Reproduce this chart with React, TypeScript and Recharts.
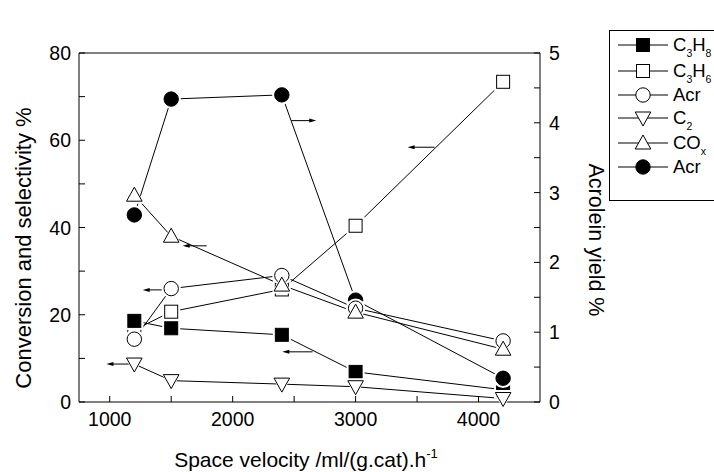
import React from 'react';
import { LineChart, Line, XAxis, YAxis, ReferenceLine } from 'recharts';

const spaceVelocity = [1200, 1500, 2400, 3000, 4200];
const propaneConv = [18.6, 16.9, 15.4, 6.9, 2.8];
const propyleneSel = [16.5, 20.7, 25.8, 40.4, 73.4];
const acroleinSel = [14.4, 26.0, 29.0, 21.5, 14.0];
const c2Sel = [8.7, 4.9, 4.1, 3.5, 0.8];
const coxSel = [47.4, 38.0, 26.8, 20.6, 12.1];
const acroleinYield = [2.68, 4.34, 4.4, 1.46, 0.34];

const xTicks = [1000, 1500, 2000, 2500, 3000, 3500, 4000];
const xLabels = [1000, 2000, 3000, 4000];
const leftTicks = [0, 10, 20, 30, 40, 50, 60, 70, 80];
const leftLabels = [0, 20, 40, 60, 80];
const rightTicks = [0, 0.5, 1, 1.5, 2, 2.5, 3, 3.5, 4, 4.5, 5];
const rightLabels = [0, 1, 2, 3, 4, 5];

// arrows: head x, tail x, y (left-axis units)
const arrowHeads = [2680, 3423, 1593, 1268, 2404, 973];
const arrowTails = [2477, 3642, 1789, 1504, 2650, 1187];
const arrowYs = [64.5, 58.4, 35.8, 25.7, 11.5, 8.7];

const data = spaceVelocity.map((sv, i) => ({
  sv,
  c3h8: propaneConv[i],
  c3h6: propyleneSel[i],
  acr: acroleinSel[i],
  c2: c2Sel[i],
  cox: coxSel[i],
  yieldAcr: acroleinYield[i],
}));

const FONT = '"Liberation Sans", Arial, Helvetica, sans-serif';
const TICK_FS = 19.5;

type Kind = 'fsq' | 'osq' | 'ocirc' | 'dtri' | 'utri' | 'fcirc';

function Marker({ kind, cx, cy, halo }: { kind: Kind; cx: number; cy: number; halo?: boolean }) {
  const h = halo ? 2.5 : 0;
  const fill = halo ? '#fff' : kind === 'fsq' || kind === 'fcirc' ? '#000' : '#fff';
  const stroke = halo ? '#fff' : '#000';
  const sw = halo ? 0 : 1;
  switch (kind) {
    case 'fsq':
    case 'osq': {
      const s = 6.5 + h;
      return <rect x={cx - s} y={cy - s} width={2 * s} height={2 * s} fill={fill} stroke={stroke} strokeWidth={sw} />;
    }
    case 'ocirc':
    case 'fcirc':
      return <circle cx={cx} cy={cy} r={7.2 + h} fill={fill} stroke={stroke} strokeWidth={sw} />;
    case 'dtri': {
      const w = 7.8 + h;
      const t = 6 + h;
      return <polygon points={`${cx - w},${cy - t} ${cx + w},${cy - t} ${cx},${cy + t + 2}`} fill={fill} stroke={stroke} strokeWidth={sw} />;
    }
    case 'utri': {
      const w = 7.8 + h;
      const t = 6 + h;
      return <polygon points={`${cx - w},${cy + t} ${cx + w},${cy + t} ${cx},${cy - t - 2}`} fill={fill} stroke={stroke} strokeWidth={sw} />;
    }
  }
  return null;
}

const makeDot = (kind: Kind) => (props: any) => {
  const { cx, cy, index } = props;
  if (cx == null || cy == null) return <g key={index} />;
  return (
    <g key={index}>
      <Marker kind={kind} cx={cx} cy={cy} halo />
      <Marker kind={kind} cx={cx} cy={cy} />
    </g>
  );
};

const XTick = (props: any) => {
  const { x, y, payload } = props;
  const v = payload.value;
  return (
    <g>
      <line x1={x} x2={x} y1={y} y2={y - 6} stroke="#000" strokeWidth={1} />
      {xLabels.includes(v) && (
        <text x={x} y={y + 24} textAnchor="middle" fontFamily={FONT} fontSize={TICK_FS} fill="#000">
          {v}
        </text>
      )}
    </g>
  );
};

const LeftTick = (props: any) => {
  const { x, y, payload } = props;
  const v = payload.value;
  return (
    <g>
      <line x1={x} x2={x + 6} y1={y} y2={y} stroke="#000" strokeWidth={1} />
      {leftLabels.includes(v) && (
        <text x={x - 8} y={y + 7} textAnchor="end" fontFamily={FONT} fontSize={TICK_FS} fill="#000">
          {v}
        </text>
      )}
    </g>
  );
};

const RightTick = (props: any) => {
  const { x, y, payload } = props;
  const v = payload.value;
  return (
    <g>
      <line x1={x} x2={x - 6} y1={y} y2={y} stroke="#000" strokeWidth={1} />
      {rightLabels.includes(v) && (
        <text x={x + 9} y={y + 7} textAnchor="start" fontFamily={FONT} fontSize={TICK_FS} fill="#000">
          {v}
        </text>
      )}
    </g>
  );
};

const arrowShape = (props: any) => {
  const { x1, y1, x2, y2 } = props;
  const dir = x2 > x1 ? 1 : -1; // from head toward tail
  return (
    <g>
      <line x1={x1 + dir * 4} y1={y1} x2={x2} y2={y2} stroke="#000" strokeWidth={1} />
      <polygon points={`${x1},${y1} ${x1 + dir * 7},${y1 - 2} ${x1 + dir * 7},${y1 + 2}`} fill="#000" />
    </g>
  );
};

const legendItems: { kind: Kind; main: string[]; subs: string[] }[] = [
  { kind: 'fsq', main: ['C', 'H'], subs: ['3', '8'] },
  { kind: 'osq', main: ['C', 'H'], subs: ['3', '6'] },
  { kind: 'ocirc', main: ['Acr'], subs: [''] },
  { kind: 'dtri', main: ['C'], subs: ['2'] },
  { kind: 'utri', main: ['CO'], subs: ['x'] },
  { kind: 'fcirc', main: ['Acr'], subs: [''] },
];
const legendRowY = [15, 41, 65, 88, 113, 137];

function LegendBox() {
  return (
    <svg width={105} height={172} style={{ position: 'absolute', left: 609, top: 30 }}>
      <rect x={0.5} y={0.5} width={120} height={170} fill="#fff" stroke="#000" strokeWidth={1} />
      {legendItems.map((it, i) => {
        const y = legendRowY[i];
        return (
          <g key={i}>
            <line x1={9} x2={59} y1={y} y2={y} stroke="#000" strokeWidth={1} />
            <Marker kind={it.kind} cx={34} cy={y} />
            <text x={64} y={y + 6} fontFamily={FONT} fontSize={18.5} fill="#000">
              {it.main.map((m, j) => (
                <React.Fragment key={j}>
                  <tspan dy={j === 0 ? 0 : -6}>{m}</tspan>
                  {it.subs[j] ? <tspan dy={6} fontSize={10.5}>{it.subs[j]}</tspan> : null}
                </React.Fragment>
              ))}
            </text>
          </g>
        );
      })}
    </svg>
  );
}

export default function App() {
  return (
    <div style={{ position: 'absolute', left: 0, top: 0, width: 714, height: 472, background: '#fff' }}>
      <LineChart width={714} height={472} data={data} margin={{ top: 53, right: 0, bottom: 0, left: 0 }}>
        <XAxis
          dataKey="sv"
          type="number"
          domain={[750, 4500]}
          ticks={xTicks}
          tick={<XTick />}
          tickLine={false}
          tickSize={0}
          tickMargin={0}
          height={70}
          axisLine={{ stroke: '#000', strokeWidth: 1 }}
          interval={0}
        />
        <YAxis
          yAxisId="left"
          orientation="left"
          type="number"
          domain={[0, 80]}
          ticks={leftTicks}
          tick={<LeftTick />}
          tickLine={false}
          tickSize={0}
          tickMargin={0}
          width={79}
          axisLine={{ stroke: '#000', strokeWidth: 1 }}
          interval={0}
        />
        <YAxis
          yAxisId="right"
          orientation="right"
          type="number"
          domain={[0, 5]}
          ticks={rightTicks}
          tick={<RightTick />}
          tickLine={false}
          tickSize={0}
          tickMargin={0}
          width={174}
          axisLine={{ stroke: '#000', strokeWidth: 1 }}
          interval={0}
        />
        <ReferenceLine yAxisId="left" y={80} stroke="#000" strokeWidth={1} />
        {arrowHeads.map((hx, i) => (
          <ReferenceLine
            key={`ar${i}`}
            yAxisId="left"
            segment={[
              { x: hx, y: arrowYs[i] },
              { x: arrowTails[i], y: arrowYs[i] },
            ]}
            shape={arrowShape}
          />
        ))}
        <Line yAxisId="left" dataKey="c3h6" stroke="#000" strokeWidth={1} dot={makeDot('osq')} isAnimationActive={false} />
        <Line yAxisId="left" dataKey="c3h8" stroke="#000" strokeWidth={1} dot={makeDot('fsq')} isAnimationActive={false} />
        <Line yAxisId="right" dataKey="yieldAcr" stroke="#000" strokeWidth={1} dot={makeDot('fcirc')} isAnimationActive={false} />
        <Line yAxisId="left" dataKey="acr" stroke="#000" strokeWidth={1} dot={makeDot('ocirc')} isAnimationActive={false} />
        <Line yAxisId="left" dataKey="c2" stroke="#000" strokeWidth={1} dot={makeDot('dtri')} isAnimationActive={false} />
        <Line yAxisId="left" dataKey="cox" stroke="#000" strokeWidth={1} dot={makeDot('utri')} isAnimationActive={false} />
        <text x={23} y={248} transform="rotate(-90 23 248)" textAnchor="middle" dominantBaseline="central" fontFamily={FONT} fontSize={22} fill="#000">
          Conversion and selectivity %
        </text>
        <text x={596} y={240} transform="rotate(90 596 240)" textAnchor="middle" dominantBaseline="central" fontFamily={FONT} fontSize={21.5} fill="#000">
          Acrolein yield %
        </text>
        <text x={306} y={467} textAnchor="middle" fontFamily={FONT} fontSize={21} fill="#000">
          Space velocity /ml/(g.cat).h<tspan dy={-9} fontSize={13}>-1</tspan>
        </text>
      </LineChart>
      <LegendBox />
    </div>
  );
}
